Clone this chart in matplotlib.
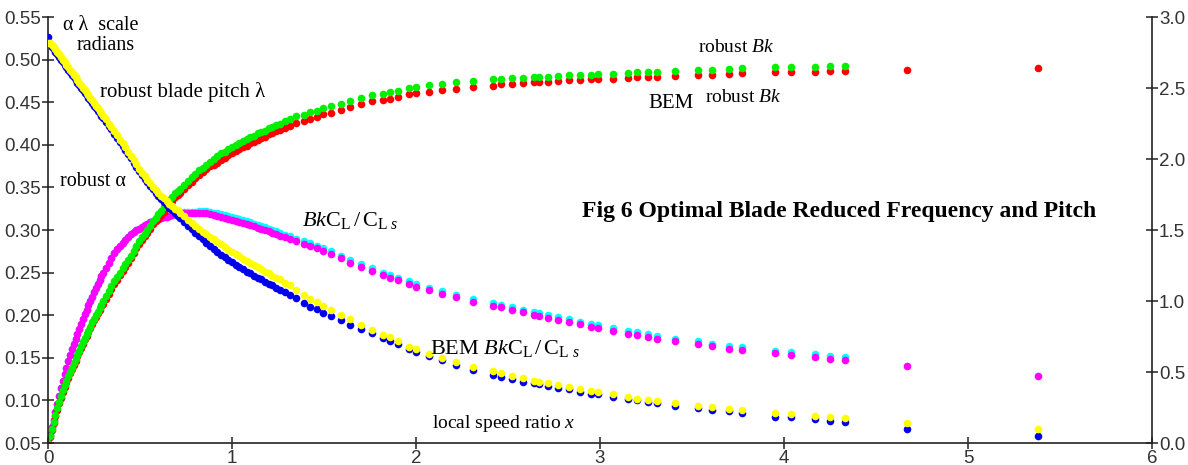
import numpy as np
import matplotlib.pyplot as plt

plt.rcParams['font.family'] = 'Liberation Sans'
plt.rcParams['mathtext.fontset'] = 'custom'
plt.rcParams['mathtext.rm'] = 'Liberation Serif'
plt.rcParams['mathtext.it'] = 'Liberation Serif:italic'

# local speed ratio x (shared by all series)
x = [0.00, 0.01, 0.02, 0.03, 0.04, 0.05, 0.06, 0.07, 0.08, 0.09, 0.10, 0.11, 0.12, 0.13, 0.14, 0.15,
     0.16, 0.17, 0.18, 0.19, 0.20, 0.21, 0.22, 0.23, 0.24, 0.25, 0.26, 0.27, 0.28, 0.29, 0.30,
     0.315, 0.33, 0.345, 0.36, 0.375, 0.39, 0.405, 0.42, 0.435, 0.45, 0.465, 0.48, 0.495, 0.51,
     0.525, 0.54, 0.555, 0.57, 0.585, 0.60, 0.615, 0.63, 0.645, 0.66, 0.675, 0.69, 0.705, 0.72,
     0.74, 0.76, 0.78, 0.80, 0.82, 0.84, 0.86, 0.88, 0.90, 0.92, 0.94, 0.96, 0.98, 1.00, 1.02,
     1.04, 1.06, 1.08, 1.10, 1.12, 1.14, 1.16, 1.18, 1.20, 1.22, 1.24, 1.26,
     1.29,
     1.315, 1.35, 1.39, 1.424, 1.46, 1.495, 1.54, 1.59, 1.64, 1.70, 1.76, 1.82, 1.86, 1.90,
     1.96, 2.00, 2.07, 2.14, 2.22, 2.31, 2.42, 2.46, 2.52, 2.58, 2.64, 2.67, 2.72, 2.77, 2.83, 2.89,
     2.95, 2.99, 3.07, 3.15, 3.20, 3.26, 3.31, 3.41, 3.53, 3.61, 3.70, 3.77, 3.95, 4.04, 4.17, 4.25,
     4.33, 4.67, 5.38]

# robust alpha, radians (left scale)
alpha_robust = [0.527, 0.518, 0.515, 0.512, 0.509, 0.506, 0.503, 0.500, 0.497, 0.494, 0.491, 0.488,
                0.485, 0.482, 0.479, 0.476, 0.473, 0.470, 0.467, 0.464, 0.461, 0.458, 0.455, 0.452,
                0.449, 0.446, 0.443, 0.440, 0.437, 0.434, 0.431,
                0.427, 0.422, 0.418, 0.413, 0.408, 0.403, 0.399, 0.394, 0.389, 0.384, 0.379, 0.374,
                0.369, 0.364, 0.360, 0.356, 0.352, 0.348, 0.344, 0.340, 0.336, 0.333, 0.329, 0.326,
                0.323, 0.320, 0.317, 0.314,
                0.309, 0.305, 0.301, 0.297, 0.293, 0.289, 0.285, 0.281, 0.278, 0.274, 0.271, 0.268,
                0.265, 0.262, 0.259, 0.256, 0.254, 0.251, 0.249, 0.246, 0.244, 0.242, 0.239, 0.237,
                0.235, 0.232, 0.230,
                0.227,
                0.224, 0.220, 0.214, 0.210, 0.207, 0.203, 0.199, 0.194, 0.189, 0.184, 0.179, 0.173,
                0.170, 0.166, 0.160, 0.157, 0.152, 0.147, 0.142, 0.136, 0.130, 0.128, 0.125, 0.122,
                0.120, 0.119, 0.117, 0.115, 0.113, 0.110, 0.108, 0.107, 0.104, 0.102, 0.100, 0.098,
                0.097, 0.094, 0.091, 0.089, 0.087, 0.085, 0.081, 0.080, 0.078, 0.076, 0.075, 0.067,
                0.058]

# robust blade pitch lambda, radians (left scale)
pitch_robust = [0.520, 0.519, 0.517, 0.515, 0.512, 0.509, 0.506, 0.503, 0.500, 0.497, 0.494, 0.491,
                0.488, 0.485, 0.482, 0.479, 0.476, 0.473, 0.470, 0.467, 0.464, 0.461, 0.458, 0.455,
                0.452, 0.449, 0.446, 0.443, 0.440, 0.437, 0.434,
                0.430, 0.425, 0.421, 0.416, 0.411, 0.406, 0.402, 0.397, 0.392, 0.387, 0.382, 0.377,
                0.372, 0.367, 0.363, 0.359, 0.355, 0.351, 0.347, 0.344, 0.340, 0.337, 0.334, 0.331,
                0.328, 0.325, 0.323, 0.320,
                0.316, 0.312, 0.308, 0.305, 0.301, 0.298, 0.295, 0.292, 0.289, 0.286, 0.283, 0.280,
                0.277, 0.274, 0.272, 0.269, 0.266, 0.264, 0.261, 0.259, 0.256, 0.254, 0.251, 0.249,
                0.246, 0.244, 0.242,
                0.238,
                0.235, 0.230, 0.224, 0.219, 0.215, 0.211, 0.206, 0.200, 0.195, 0.189, 0.183, 0.177,
                0.174, 0.170, 0.163, 0.160, 0.155, 0.150, 0.145, 0.139, 0.134, 0.132, 0.129, 0.126,
                0.123, 0.122, 0.120, 0.118, 0.116, 0.113, 0.111, 0.110, 0.107, 0.104, 0.102, 0.100,
                0.099, 0.097, 0.094, 0.092, 0.090, 0.089, 0.085, 0.084, 0.082, 0.080, 0.079, 0.074,
                0.066]

# robust Bk (right scale), no points past x=4.33
bk_robust = [0.00, 0.05, 0.10, 0.15, 0.20, 0.245, 0.29, 0.33, 0.37, 0.405, 0.44, 0.47, 0.50, 0.53,
             0.56, 0.59, 0.62, 0.65, 0.68, 0.71, 0.74, 0.765, 0.79, 0.82, 0.85, 0.875, 0.90, 0.925,
             0.95, 0.975, 1.00,
             1.035, 1.07, 1.105, 1.14, 1.17, 1.20, 1.23, 1.26, 1.29, 1.32, 1.355, 1.39, 1.42, 1.45,
             1.475, 1.50, 1.53, 1.56, 1.585, 1.61, 1.635, 1.66, 1.685, 1.71, 1.735, 1.76, 1.775, 1.79,
             1.82, 1.845, 1.87, 1.895, 1.92, 1.94, 1.96, 1.98, 2.00, 2.02, 2.04, 2.05, 2.07, 2.085,
             2.10, 2.115, 2.13, 2.14, 2.155, 2.165, 2.18, 2.19, 2.20, 2.22, 2.225, 2.24, 2.25,
             2.265,
             2.28, 2.30, 2.31, 2.33, 2.34, 2.36, 2.37, 2.39, 2.41, 2.43, 2.45, 2.46, 2.47, 2.48,
             2.50, 2.51, 2.52, 2.53, 2.54, 2.55, 2.56, 2.565, 2.57, 2.57, 2.575, 2.58, 2.58, 2.585,
             2.59, 2.59, 2.595, 2.60, 2.60, 2.605, 2.61, 2.61, 2.615, 2.62, 2.625, 2.63, 2.635, 2.64,
             2.65, 2.65, 2.65, 2.655, 2.655]

# BEM robust Bk (right scale)
bk_bem = [0.00, 0.045, 0.09, 0.14, 0.19, 0.235, 0.28, 0.32, 0.36, 0.395, 0.43, 0.46, 0.49, 0.52,
          0.55, 0.58, 0.61, 0.64, 0.67, 0.70, 0.73, 0.755, 0.78, 0.81, 0.84, 0.865, 0.89, 0.915,
          0.94, 0.965, 0.98,
          1.015, 1.05, 1.085, 1.12, 1.15, 1.18, 1.21, 1.24, 1.27, 1.30, 1.335, 1.37, 1.40, 1.43,
          1.455, 1.48, 1.51, 1.54, 1.565, 1.58, 1.605, 1.63, 1.655, 1.68, 1.705, 1.73, 1.745, 1.76,
          1.79, 1.815, 1.84, 1.865, 1.89, 1.91, 1.93, 1.95, 1.955, 1.975, 1.995, 2.005, 2.025, 2.04,
          2.055, 2.07, 2.085, 2.095, 2.11, 2.12, 2.135, 2.145, 2.155, 2.175, 2.18, 2.195, 2.205,
          2.22,
          2.235, 2.255, 2.265, 2.285, 2.295, 2.315, 2.325, 2.345, 2.365, 2.385, 2.405, 2.415, 2.425,
          2.435, 2.455, 2.465, 2.475, 2.485, 2.495, 2.505, 2.515, 2.525, 2.53, 2.535, 2.54, 2.545,
          2.545, 2.55, 2.555, 2.555, 2.56, 2.565, 2.565, 2.57, 2.575, 2.575, 2.58, 2.585, 2.59,
          2.595, 2.60, 2.605, 2.615, 2.615, 2.615, 2.62, 2.62, 2.63, 2.64]

# robust BkCL/CLs (right scale), no points past x=4.33
bkcl_robust = [0.00, 0.055, 0.11, 0.165, 0.22, 0.275, 0.33, 0.385, 0.44, 0.485, 0.53, 0.575, 0.62,
               0.66, 0.70, 0.735, 0.77, 0.805, 0.84, 0.875, 0.91, 0.94, 0.97, 1.00, 1.03, 1.06, 1.09,
               1.12, 1.15, 1.175, 1.20,
               1.235, 1.27, 1.305, 1.34, 1.365, 1.39, 1.41, 1.43, 1.45, 1.47, 1.485, 1.50, 1.51, 1.52,
               1.535, 1.545, 1.555, 1.56, 1.57, 1.58, 1.585, 1.59, 1.595, 1.60, 1.605, 1.61, 1.615,
               1.62,
               1.63, 1.63, 1.63, 1.63, 1.635, 1.635, 1.633, 1.627, 1.62, 1.618, 1.61, 1.605, 1.598,
               1.592, 1.585, 1.578, 1.57, 1.56, 1.553, 1.545, 1.535, 1.525, 1.518, 1.51, 1.50, 1.49,
               1.48,
               1.468,
               1.455, 1.44, 1.42, 1.405, 1.39, 1.37, 1.35, 1.32, 1.29, 1.26, 1.23, 1.20, 1.18, 1.165,
               1.14, 1.12, 1.095, 1.07, 1.045, 1.015, 0.985, 0.975, 0.955, 0.94, 0.92, 0.915, 0.90,
               0.885, 0.87, 0.855, 0.84, 0.83, 0.81, 0.79, 0.78, 0.765, 0.755, 0.735, 0.715, 0.70,
               0.685, 0.675, 0.65, 0.64, 0.625, 0.615, 0.605]

# BEM BkCL/CLs (right scale)
bkcl_bem = [0.00, 0.055, 0.11, 0.165, 0.22, 0.275, 0.33, 0.385, 0.44, 0.485, 0.53, 0.575, 0.62,
            0.66, 0.70, 0.735, 0.77, 0.805, 0.84, 0.875, 0.91, 0.94, 0.97, 1.00, 1.03, 1.06, 1.09,
            1.12, 1.15, 1.175, 1.20,
            1.235, 1.27, 1.305, 1.34, 1.365, 1.39, 1.41, 1.43, 1.45, 1.47, 1.485, 1.50, 1.51, 1.52,
            1.535, 1.545, 1.555, 1.56, 1.57, 1.58, 1.585, 1.59, 1.595, 1.60, 1.605, 1.61, 1.61,
            1.615,
            1.62, 1.62, 1.62, 1.62, 1.62, 1.62, 1.618, 1.612, 1.605, 1.598, 1.59, 1.585, 1.578,
            1.572, 1.565, 1.558, 1.55, 1.54, 1.533, 1.525, 1.515, 1.505, 1.498, 1.49, 1.48, 1.47,
            1.46,
            1.448,
            1.435, 1.42, 1.40, 1.385, 1.37, 1.35, 1.33, 1.30, 1.27, 1.24, 1.21, 1.18, 1.16, 1.145,
            1.12, 1.10, 1.075, 1.05, 1.025, 0.995, 0.965, 0.955, 0.935, 0.92, 0.90, 0.895, 0.88,
            0.865, 0.85, 0.835, 0.82, 0.81, 0.79, 0.77, 0.76, 0.745, 0.735, 0.715, 0.695, 0.68,
            0.665, 0.655, 0.633, 0.62, 0.605, 0.595, 0.585, 0.545, 0.474]

W, H = 1188, 465
fig = plt.figure(figsize=(W / 100, H / 100), dpi=100)
ax = fig.add_axes([48 / W, 22 / H, 1104 / W, 426 / H])
ax2 = ax.twinx()

n_r = len(bk_robust)
dot = 30
ax2.scatter(x[:n_r], bkcl_robust, s=dot, color='#00ffff', linewidths=0, zorder=1)
ax2.scatter(x, bkcl_bem, s=dot, color='#ff00ff', linewidths=0, zorder=2)
ax2.scatter(x, bk_bem, s=dot, color='#ff0000', linewidths=0, zorder=3)
ax2.scatter(x[:n_r], bk_robust, s=dot, color='#00f000', linewidths=0, zorder=4)
ax.scatter(x, alpha_robust, s=dot, color='#0000ee', linewidths=0, zorder=5)
ax.scatter(x, pitch_robust, s=dot, color='#ffff00', linewidths=0, zorder=6)

# angle axis above the Bk axis so blue/yellow dots sit on top
ax.set_zorder(ax2.get_zorder() + 1)
ax.patch.set_visible(False)

ax.set_xlim(0, 6)
ax.set_ylim(0.05, 0.55)
ax2.set_ylim(0, 3)
ax.set_xticks(range(7))
ax.set_yticks(np.arange(0.05, 0.551, 0.05))
ax.set_yticklabels(['%.2f' % v for v in np.arange(0.05, 0.551, 0.05)])
ax2.set_yticks(np.arange(0, 3.01, 0.5))
ax2.set_yticklabels(['%.1f' % v for v in np.arange(0, 3.01, 0.5)])

for a in (ax, ax2):
    a.spines['top'].set_visible(False)
    for s in a.spines.values():
        s.set_linewidth(1.2)
        s.set_color('#222222')
    a.tick_params(direction='inout', length=8, width=1.1, pad=1, labelsize=13.5,
                  labelcolor='#333333', color='#222222')
ax2.spines['left'].set_visible(False)
ax2.spines['bottom'].set_visible(False)
ax.spines['right'].set_visible(False)


def put(px, py, s, size=14.5, **kw):
    fig.text(px / W, 1 - py / H, s, fontsize=size, family='Liberation Serif',
             va='center', ha='left', **kw)


bkcl = r'$\mathit{Bk}\mathrm{C}_{\mathrm{L}}\,/\,\mathrm{C}_{\mathrm{L}\ \mathit{s}}$'
put(63, 25, 'α λ  scale')
put(77, 45, 'radians')
put(100, 92, 'robust blade pitch λ', 15)
put(60, 182, 'robust α')
put(302, 220, bkcl, 16)
put(430, 348, 'BEM ' + bkcl, 16)
put(432, 423, r'local speed ratio $\mathit{x}$', 14)
put(698, 48, r'robust $\mathit{Bk}$', 14)
put(648, 103, 'BEM', 15)
put(705, 98, r'robust $\mathit{Bk}$', 14)
put(582, 211, 'Fig 6 Optimal Blade Reduced Frequency and Pitch', 17, fontweight='bold')

fig.savefig('out.png', dpi=100)
